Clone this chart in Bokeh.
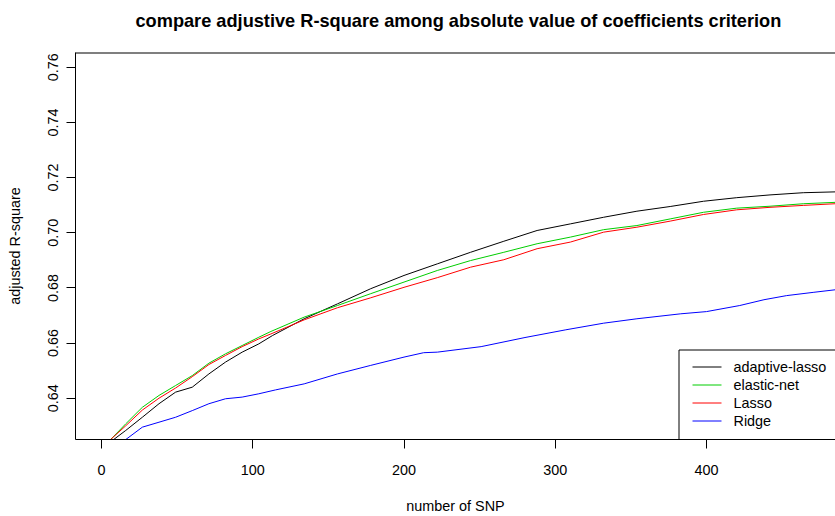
from bokeh.plotting import figure
from bokeh.models import (Range1d, FixedTicker, PrintfTickFormatter, Title)
from bokeh.core.properties import value
from bokeh.embed import file_html
from bokeh.resources import INLINE

# ---- data ----
lasso_adapt_n = [8, 16, 27, 38, 49, 60, 71, 82, 93, 104, 113, 134, 156, 178, 200, 222,
                 244, 266, 288, 310, 332, 354, 376, 398, 420, 442, 464, 485]
lasso_adapt_v = [0.6250, 0.6283, 0.6331, 0.6380, 0.6422, 0.6440, 0.6488, 0.6531, 0.6567,
                 0.6597, 0.6627, 0.6688, 0.6742, 0.6797, 0.6845, 0.6887, 0.6929, 0.6969,
                 0.7008, 0.7032, 0.7056, 0.7078, 0.7095, 0.7114, 0.7127, 0.7137, 0.7145, 0.7148]

enet_n = [6, 16, 27, 38, 49, 60, 71, 82, 93, 104, 112, 134, 156, 178, 200, 222,
          244, 266, 288, 310, 332, 354, 376, 398, 420, 442, 464, 485]
enet_v = [0.6250, 0.6307, 0.6367, 0.6410, 0.6446, 0.6482, 0.6527, 0.6561, 0.6591,
          0.6621, 0.6642, 0.6694, 0.6736, 0.6779, 0.6821, 0.6863, 0.6899, 0.6929,
          0.6960, 0.6984, 0.7011, 0.7026, 0.7050, 0.7074, 0.7089, 0.7096, 0.7105, 0.7110]

lasso_n = [6, 16, 27, 38, 49, 60, 71, 82, 93, 104, 112, 134, 156, 178, 200, 222,
           244, 266, 288, 310, 332, 354, 376, 398, 420, 442, 464, 485]
lasso_v = [0.6250, 0.6300, 0.6357, 0.6400, 0.6437, 0.6478, 0.6522, 0.6555, 0.6587,
           0.6615, 0.6633, 0.6684, 0.6728, 0.6764, 0.6802, 0.6837, 0.6875, 0.6902,
           0.6942, 0.6966, 0.7002, 0.7020, 0.7042, 0.7066, 0.7083, 0.7092, 0.7099, 0.7105]

ridge_n = [16, 27, 38, 49, 60, 71, 82, 93, 104, 115, 134, 156, 178, 200, 213, 222,
           251, 280, 307, 332, 354, 383, 400, 422, 438, 453, 471, 485]
ridge_v = [0.6250, 0.6295, 0.6313, 0.6331, 0.6355, 0.6380, 0.6398, 0.6404, 0.6416,
           0.6430, 0.6452, 0.6488, 0.6519, 0.6549, 0.6565, 0.6567, 0.6587, 0.6620,
           0.6648, 0.6672, 0.6688, 0.6706, 0.6714, 0.6736, 0.6757, 0.6772, 0.6784, 0.6793]

series_names = ["adaptive-lasso", "elastic-net", "Lasso", "Ridge"]
series_colors = ["#000000", "#00CD00", "#FF0000", "#0000FF"]

x_ticks = [0, 100, 200, 300, 400]
y_ticks = [0.64, 0.66, 0.68, 0.70, 0.72, 0.74, 0.76]

TITLE = "compare adjustive R-square among absolute value of coefficients criterion"
FONT = "Liberation Sans"
FS = "14.4px"
X0, X1 = -17.2, 485.3
Y0, Y1 = 0.62503, 0.76533

# frame geometry in canvas pixels (used only to place the legend like R does)
FL, FR, FT, FB = 75, 835, 52, 439


def px_x(px):
    return X0 + (px - FL) * (X1 - X0) / (FR - FL)


def px_y(py):
    return Y0 + (FB - py) * (Y1 - Y0) / (FB - FT)


p = figure(width=835, height=516, output_backend="svg", toolbar_location=None,
           x_range=Range1d(X0, X1), y_range=Range1d(Y0, Y1),
           min_border_left=75, min_border_right=0, min_border_top=52, min_border_bottom=77)
# trailing empty line gives the title box room so the text sits near the top, as in R
p.title = Title(text=TITLE + "\n", align="left", offset=60, vertical_align="top",
                text_font=FONT, text_font_size="18.2px", text_font_style="bold",
                text_color="#000000", standoff=0)
p.outline_line_color = None
p.grid.visible = False
p.background_fill_color = "white"
p.border_fill_color = "white"

xa = p.below[0]
ya = p.left[0]

xa.ticker = FixedTicker(ticks=x_ticks)
xa.axis_label = "number of SNP"
ya.ticker = FixedTicker(ticks=y_ticks)
ya.formatter = PrintfTickFormatter(format="%.2f")
ya.axis_label = "adjusted R-square"
ya.major_label_orientation = "vertical"
for ax in (xa, ya):
    ax.axis_line_color = "black"
    ax.major_tick_line_color = "black"
    ax.major_tick_out = 9
    ax.major_tick_in = 0
    ax.minor_tick_line_color = None
    ax.major_label_text_font = FONT
    ax.major_label_text_font_size = FS
    ax.major_label_text_color = "#000000"
    ax.axis_label_text_font = FONT
    ax.axis_label_text_font_size = FS
    ax.axis_label_text_font_style = "normal"
    ax.axis_label_text_color = "#000000"
xa.major_label_standoff = 16
xa.axis_label_standoff = 20
ya.major_label_standoff = 8
ya.axis_label_standoff = 23

# top edge of the plot box (other edges are clipped away / covered by the axes)
p.quad(left=[px_x(FL - 20)], right=[px_x(FR + 20)], bottom=[px_y(FB + 20)], top=[Y1],
       fill_alpha=0.0, line_color="black", line_width=2)

for xs, ys, c in [(lasso_adapt_n, lasso_adapt_v, series_colors[0]),
                  (enet_n, enet_v, series_colors[1]),
                  (lasso_n, lasso_v, series_colors[2]),
                  (ridge_n, ridge_v, series_colors[3])]:
    p.line(xs, ys, line_color=c, line_width=1)

# legend (R "bottomright" legend, its box running past the visible right edge)
p.quad(left=[px_x(678.5)], right=[px_x(FR + 40)], bottom=[px_y(FB + 20)], top=[px_y(349.5)],
       fill_color="white", line_color="black", line_width=1)
row_y = [px_y(366.5 + 18 * i) for i in range(len(series_names))]
p.segment(x0=[px_x(692)] * len(series_names), x1=[px_x(721)] * len(series_names),
          y0=row_y, y1=row_y, line_color=series_colors, line_width=1)
p.text(x=[px_x(733)] * len(series_names), y=row_y, text=series_names,
       text_font=value(FONT), text_font_size=value(FS), text_color="#000000",
       text_align="left", text_baseline="middle")

open("out.html", "w").write(file_html(p, INLINE))
